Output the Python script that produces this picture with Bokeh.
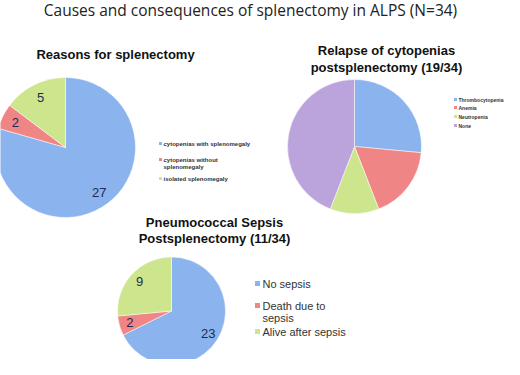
import numpy as np
from bokeh.plotting import figure
from bokeh.models import Range1d, ColumnDataSource
from bokeh.core.properties import value
from bokeh.embed import file_html
from bokeh.resources import INLINE

# ---- data ----
main_title = "Causes and consequences of splenectomy in ALPS (N=34)"

reasons_title = ["Reasons for splenectomy"]
reasons_labels = ["cytopenias with splenomegaly", "cytopenias without\nsplenomegaly", "isolated splenomegaly"]
reasons_values = [27, 2, 5]

relapse_title = ["Relapse of cytopenias", "postsplenectomy (19/34)"]
relapse_labels = ["Thrombocytopenia", "Anemia", "Neutropenia", "None"]
relapse_values = [9, 6, 4, 15]

sepsis_title = ["Pneumococcal Sepsis", "Postsplenectomy (11/34)"]
sepsis_labels = ["No sepsis", "Death due to\nsepsis", "Alive after sepsis"]
sepsis_values = [23, 2, 9]

BLUE, RED, GREEN, PURPLE = "#8BB4EE", "#F08585", "#CDE58C", "#BBA3DC"
reasons_colors = [BLUE, RED, GREEN]
relapse_colors = [BLUE, RED, GREEN, PURPLE]
sepsis_colors = [BLUE, RED, GREEN]

W, H = 504, 359
p = figure(width=W, height=H, output_backend="svg", toolbar_location=None,
           x_range=Range1d(0, W), y_range=Range1d(0, H), min_border=0)
p.axis.visible = False
p.grid.visible = False
p.outline_line_color = None

def Y(y_img):
    return 367 - y_img

def X(x_img):
    return x_img - 8

def pie(vals, colors, cx, cy, r, show_labels, lab_r=0.8):
    vals = np.array(vals, dtype=float)
    frac = vals / vals.sum() * 2 * np.pi
    ends = np.cumsum(frac)
    starts = ends - frac
    src = ColumnDataSource(dict(start=np.pi / 2 - starts, end=np.pi / 2 - ends, color=colors))
    p.wedge(x=cx, y=cy, radius=r, start_angle="start", end_angle="end", direction="clock",
            fill_color="color", line_color="white", line_width=0.5, source=src)
    if show_labels:
        mid = (starts + ends) / 2
        lx = cx + lab_r * r * np.sin(mid)
        ly = cy + lab_r * r * np.cos(mid)
        p.text(x=lx, y=ly, text=[str(int(v)) for v in vals], text_align="center",
               text_baseline="middle", text_font=value("Liberation Sans"),
               text_font_size="13px", text_color="#1F2A50")

def legend(labels, colors, x, ys, size, bold, sq):
    for lab, c, yy in zip(labels, colors, ys):
        lines = lab.split("\n")
        p.rect(x=X(x), y=Y(yy), width=sq, height=sq, fill_color=c, line_color=None)
        for i, ln in enumerate(lines):
            p.text(x=X(x) + sq, y=Y(yy + i * (size + 1)), text=[ln], text_baseline="middle",
                   text_font=value("Liberation Sans"), text_font_size=f"{size}px",
                   text_font_style="bold" if bold else "normal", text_color="#333333")

def title(lines, cx, y0, size, dy):
    for i, ln in enumerate(lines):
        p.text(x=X(cx), y=Y(y0 + i * dy), text=[ln], text_align="center", text_baseline="middle",
               text_font=value("Liberation Sans"), text_font_size=f"{size}px",
               text_font_style="bold", text_color="#111111")

# main title
p.text(x=X(258), y=Y(17), text=[main_title], text_align="center", text_baseline="middle",
       text_font=value("Open Sans"), text_font_size="15.5px", text_color="#222222")

# pie 1
title(reasons_title, 123, 62, 13, 17)
pie(reasons_values, reasons_colors, X(73), Y(155), 70, True)
legend(reasons_labels, reasons_colors, 168, [151, 167, 186], 6, True, 3)

# pie 2
title(relapse_title, 394, 58, 13, 17)
pie(relapse_values, relapse_colors, X(362), Y(154), 67, False)
legend(relapse_labels, relapse_colors, 463, [107, 115, 124, 133], 5, True, 3)

# pie 3
title(sepsis_title, 222, 230, 13, 16)
pie(sepsis_values, sepsis_colors, X(179), Y(318.5), 54, True)
legend(sepsis_labels, sepsis_colors, 265, [291, 313, 339], 11, False, 5)

open("out.html", "w").write(file_html(p, INLINE))
